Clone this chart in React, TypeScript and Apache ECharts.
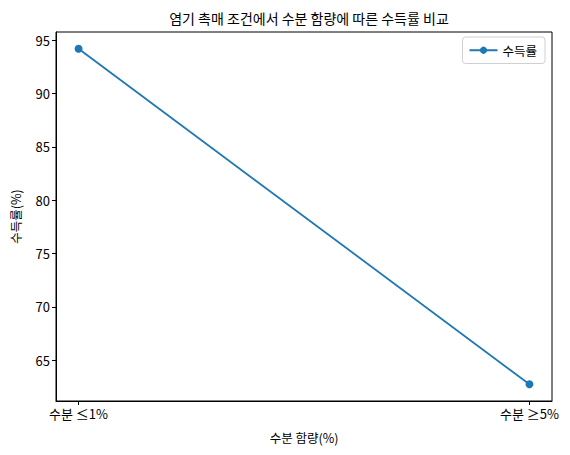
import React, { useEffect, useRef } from 'react';
import * as echarts from 'echarts';

const categories = ['수분 ≤1%', '수분 ≥5%'];
const yieldValues = [94.2, 62.75];
const yTicks = [65, 70, 75, 80, 85, 90, 95];

const FONT = '"Noto Sans CJK KR", "Noto Sans", sans-serif';

const App = () => {
  const chartRef = useRef<HTMLDivElement>(null);

  useEffect(() => {
    if (!chartRef.current) return;
    const chart = echarts.init(chartRef.current, undefined, { renderer: 'svg' });

    const lo = Math.min(...yieldValues);
    const hi = Math.max(...yieldValues);
    const pad = (hi - lo) * 0.05;

    const option: echarts.EChartsOption = {
      animation: false,
      textStyle: { fontFamily: FONT },
      title: {
        text: '염기 촉매 조건에서 수분 함량에 따른 수득률 비교',
        left: 304,
        top: 6,
        textAlign: 'center',
        textStyle: { fontSize: 14, fontWeight: 'normal', color: '#000', fontFamily: FONT },
      },
      legend: {
        right: 25,
        top: 37,
        data: ['수득률'],
        itemWidth: 28,
        itemHeight: 9,
        itemGap: 10,
        padding: [7, 8, 7, 6],
        borderColor: '#d0d0d0',
        borderWidth: 1,
        borderRadius: 3,
        textStyle: { fontSize: 12.5, color: '#000', fontFamily: FONT },
      },
      grid: {
        left: 56,
        right: 18,
        top: 32,
        bottom: 54,
        show: true,
        borderColor: '#000',
        borderWidth: 1,
      },
      xAxis: {
        type: 'value',
        min: -0.05,
        max: 1.05,
        name: '수분 함량(%)',
        nameLocation: 'middle',
        nameGap: 30,
        nameTextStyle: { fontSize: 12.5, color: '#000', fontFamily: FONT },
        splitLine: { show: false },
        axisLine: { show: true, onZero: false, lineStyle: { color: '#000' } },
        axisTick: { show: true, length: 4, customValues: [0, 1], lineStyle: { color: '#000' } },
        axisLabel: {
          customValues: [0, 1],
          formatter: (v: number) => categories[Math.round(v)] ?? '',
          fontSize: 13,
          color: '#000',
          margin: 6,
          fontFamily: FONT,
        },
      },
      yAxis: {
        type: 'value',
        min: lo - pad,
        max: hi + pad,
        name: '수득률(%)',
        nameLocation: 'middle',
        nameGap: 34,
        nameTextStyle: { fontSize: 12.5, color: '#000', fontFamily: FONT },
        splitLine: { show: false },
        axisLine: { show: true, onZero: false, lineStyle: { color: '#000' } },
        axisTick: { show: true, length: 4, customValues: yTicks, lineStyle: { color: '#000' } },
        axisLabel: {
          customValues: yTicks,
          fontSize: 13,
          color: '#000',
          margin: 6,
          fontFamily: FONT,
        },
      },
      series: [
        {
          name: '수득률',
          type: 'line',
          data: yieldValues.map((v, i) => [i, v]),
          symbol: 'circle',
          symbolSize: 8,
          itemStyle: { color: '#1f77b4' },
          lineStyle: { color: '#1f77b4', width: 1.8 },
        },
      ],
    };

    chart.setOption(option);
    return () => chart.dispose();
  }, []);

  return <div ref={chartRef} style={{ width: 570, height: 455, margin: -8 }} />;
};

export default App;
